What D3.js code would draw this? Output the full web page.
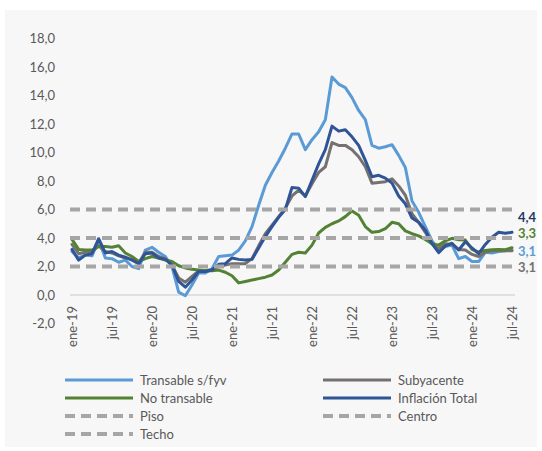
<!DOCTYPE html>
<html>
<head>
<meta charset="utf-8">
<script src="https://cdn.jsdelivr.net/npm/d3@7"></script>
<style>
  html, body { margin: 0; padding: 0; background: #ffffff; }
  svg { display: block; font-family: Lato, "Open Sans", sans-serif; }
</style>
</head>
<body>
<svg id="chart" width="542" height="451"></svg>
<script>
const months = [
  "ene-19","feb-19","mar-19","abr-19","may-19","jun-19","jul-19","ago-19","sep-19","oct-19","nov-19","dic-19",
  "ene-20","feb-20","mar-20","abr-20","may-20","jun-20","jul-20","ago-20","sep-20","oct-20","nov-20","dic-20",
  "ene-21","feb-21","mar-21","abr-21","may-21","jun-21","jul-21","ago-21","sep-21","oct-21","nov-21","dic-21",
  "ene-22","feb-22","mar-22","abr-22","may-22","jun-22","jul-22","ago-22","sep-22","oct-22","nov-22","dic-22",
  "ene-23","feb-23","mar-23","abr-23","may-23","jun-23","jul-23","ago-23","sep-23","oct-23","nov-23","dic-23",
  "ene-24","feb-24","mar-24","abr-24","may-24","jun-24","jul-24"
];
const xTickLabels = ["ene-19","jul-19","ene-20","jul-20","ene-21","jul-21","ene-22","jul-22","ene-23","jul-23","ene-24","jul-24"];
const yTicks = [-2,0,2,4,6,8,10,12,14,16,18];

const transable = [
  3.05,2.6,2.8,2.75,3.85,2.6,2.55,2.3,2.45,2.0,1.85,3.15,
  3.35,3.0,2.7,2.0,0.2,-0.05,0.7,1.55,1.55,1.85,2.7,2.75,
  2.8,3.15,3.8,4.8,6.3,7.7,8.6,9.4,10.3,11.3,11.3,10.2,
  10.9,11.45,12.3,15.3,14.8,14.55,13.85,12.95,12.3,10.5,10.3,10.4,
  10.55,9.8,8.95,6.6,5.8,4.8,3.8,3.2,3.4,3.5,2.55,2.7,
  2.35,2.35,3.0,2.95,3.05,3.1,3.15
];
const subyacente = [
  3.55,2.9,3.0,3.05,3.45,3.05,2.95,2.75,2.6,2.5,2.25,3.0,
  3.0,2.7,2.55,2.1,1.2,0.9,1.3,1.7,1.7,1.8,2.0,2.1,
  2.2,2.2,2.2,2.55,3.45,4.3,4.9,5.5,6.1,6.95,7.35,6.95,
  7.8,8.6,9.0,10.7,10.5,10.5,10.2,9.7,9.0,7.85,7.9,7.95,
  8.15,7.65,7.0,5.7,5.1,4.4,3.6,3.25,3.6,3.55,3.2,3.15,
  2.85,2.7,3.0,3.1,3.1,3.1,3.1
];
const noTransable = [
  3.9,3.2,3.15,3.15,3.4,3.4,3.35,3.45,2.95,2.7,2.35,2.55,
  2.7,2.6,2.45,2.35,2.05,1.9,1.8,1.75,1.7,1.7,1.75,1.6,
  1.35,0.85,0.95,1.05,1.15,1.25,1.4,1.75,2.3,2.85,3.0,2.95,
  3.5,4.35,4.75,5.0,5.2,5.5,5.9,5.6,4.8,4.4,4.45,4.65,
  5.1,5.0,4.5,4.3,4.15,3.9,3.6,3.5,3.8,3.98,3.88,3.86,
  3.2,3.0,3.13,3.18,3.2,3.18,3.32
];
const total = [
  3.2,2.45,2.8,2.9,3.95,2.95,3.05,2.8,2.65,2.45,2.2,2.9,
  2.95,2.6,2.5,2.1,0.95,0.55,1.05,1.65,1.65,1.75,2.15,2.2,
  2.6,2.5,2.45,2.5,3.3,4.1,4.8,5.45,6.0,7.55,7.5,6.9,
  8.05,9.2,10.2,11.85,11.5,11.6,11.1,10.5,9.45,8.3,8.4,8.2,
  7.85,6.95,6.4,5.4,5.1,4.55,3.6,2.97,3.45,3.63,3.16,3.74,
  3.3,2.9,3.55,4.05,4.4,4.33,4.4
];
const piso = 2, centro = 4, techo = 6;

const endLabels = [
  {text: "4,4", color: "#1f3864", y: 217},
  {text: "3,3", color: "#548235", y: 233},
  {text: "3,1", color: "#5b9bd5", y: 251},
  {text: "3,1", color: "#767171", y: 267}
];

const svg = d3.select("#chart");
svg.append("rect").attr("x", 5).attr("y", 10).attr("width", 532).attr("height", 437).attr("fill", "#f7f7f7");

const x = d3.scaleLinear().domain([0, months.length - 1]).range([72, 512]);
const y = d3.scaleLinear().domain([-2, 18]).range([323.5, 38.5]);

// y axis
const yAxis = d3.axisLeft(y).tickValues(yTicks).tickSize(0).tickPadding(0)
  .tickFormat(d => d3.format(".1f")(d).replace(".", ",").replace("\u2212", "-"));
const gy = svg.append("g").attr("transform", "translate(55,0)").call(yAxis);
gy.select(".domain").remove();
gy.selectAll("text").attr("fill", "#595959").style("font-size", "13px").style("font-family", "Lato, sans-serif");

// zero line
svg.append("line").attr("x1", 70).attr("x2", 515).attr("y1", y(0)).attr("y2", y(0))
  .attr("stroke", "#d9d9d9").attr("stroke-width", 1.5);

// x axis labels
const xAxis = d3.axisBottom(x)
  .tickValues(xTickLabels.map(l => months.indexOf(l)))
  .tickFormat(i => months[i]).tickSize(0).tickPadding(0);
const gx = svg.append("g").attr("transform", "translate(0,306)").call(xAxis);
gx.select(".domain").remove();
gx.selectAll("text")
  .attr("fill", "#595959").style("font-size", "13px").style("font-family", "Lato, sans-serif")
  .attr("text-anchor", "end").attr("transform", "rotate(-90)")
  .attr("x", 0).attr("y", 0).attr("dy", "0.35em");

const line = d3.line().x((d, i) => x(i)).y(d => y(d)).curve(d3.curveLinear);

const series = [
  {name: "Transable s/fyv", data: transable, color: "#5b9bd5"},
  {name: "Subyacente", data: subyacente, color: "#767171"},
  {name: "No transable", data: noTransable, color: "#548235"},
  {name: "Inflación Total", data: total, color: "#2f5597"}
];
series.forEach(s => {
  svg.append("path").datum(s.data).attr("d", line)
    .attr("fill", "none").attr("stroke", s.color).attr("stroke-width", 3)
    .attr("stroke-linejoin", "round").attr("stroke-linecap", "round");
});

// reference lines
[piso, centro, techo].forEach(v => {
  svg.append("line").attr("x1", 70).attr("x2", 512).attr("y1", y(v)).attr("y2", y(v))
    .attr("stroke", "#a6a6a6").attr("stroke-width", 4).attr("stroke-dasharray", "10,6");
});

// end labels
endLabels.forEach(l => {
  svg.append("text").attr("x", 518).attr("y", l.y).attr("dy", "0.35em")
    .attr("fill", l.color).style("font-size", "13px").style("font-weight", "bold").text(l.text);
});

// legend
const legend = [
  {name: "Transable s/fyv", color: "#5b9bd5", dash: null, x: 65, y: 380},
  {name: "Subyacente", color: "#767171", dash: null, x: 323, y: 380},
  {name: "No transable", color: "#548235", dash: null, x: 65, y: 398},
  {name: "Inflación Total", color: "#2f5597", dash: null, x: 323, y: 398},
  {name: "Piso", color: "#a6a6a6", dash: "10,6", x: 65, y: 416},
  {name: "Centro", color: "#a6a6a6", dash: "10,6", x: 323, y: 416},
  {name: "Techo", color: "#a6a6a6", dash: "10,6", x: 65, y: 434}
];
legend.forEach(l => {
  svg.append("line").attr("x1", l.x).attr("x2", l.x + 68).attr("y1", l.y).attr("y2", l.y)
    .attr("stroke", l.color).attr("stroke-width", l.dash ? 4 : 3)
    .attr("stroke-dasharray", l.dash);
  svg.append("text").attr("x", l.x + 75).attr("y", l.y).attr("dy", "0.35em")
    .attr("fill", "#595959").style("font-size", "13px").text(l.name);
});
</script>
</body>
</html>
